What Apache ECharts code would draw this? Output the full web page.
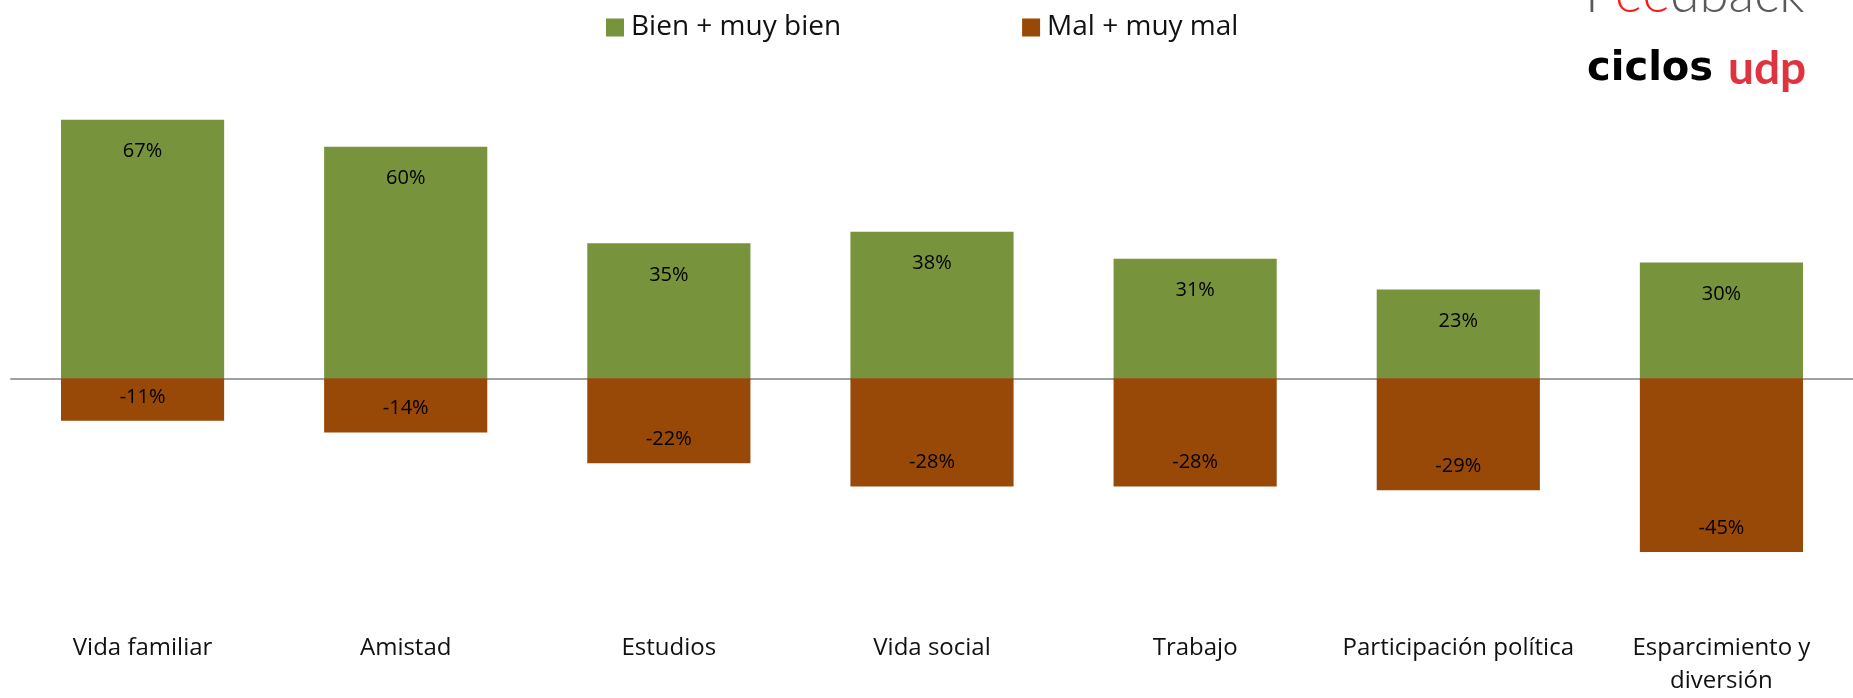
<!DOCTYPE html>
<html>
<head>
<meta charset="utf-8">
<script src="https://cdn.jsdelivr.net/npm/echarts@6/dist/echarts.min.js"></script>
<style>html,body{margin:0;padding:0;background:#fff}#c{width:1853px;height:698px}</style>
</head>
<body>
<div id="c"></div>
<script>
const categories = ['Vida familiar', 'Amistad', 'Estudios', 'Vida social', 'Trabajo', 'Participación política', 'Esparcimiento y\ndiversión'];
const bienValues = [0.67, 0.60, 0.35, 0.38, 0.31, 0.23, 0.30];
const malValues = [-0.11, -0.14, -0.22, -0.28, -0.28, -0.29, -0.45];
const seriesNames = ['Bien + muy bien', 'Mal + muy mal'];

const FONT = '"Open Sans", Lato, sans-serif';
const chart = echarts.init(document.getElementById('c'));
const pct = p => Math.round(p.value * 100) + '%';
chart.setOption({
  animation: false,
  legend: {
    left: 601, top: 8.5,
    itemWidth: 18, itemHeight: 18, itemGap: 181,
    icon: 'rect',
    textStyle: { fontFamily: FONT, fontSize: 28, lineHeight: 28, color: '#111', padding: [0, 0, 0, 2] },
    data: seriesNames
  },
  grid: { left: 11, right: 0, top: 69.5, bottom: 78.5, containLabel: false },
  xAxis: [{
    type: 'category', data: categories, position: 'bottom',
    axisLine: { show: false, onZero: false }, axisTick: { show: false },
    axisLabel: { fontFamily: FONT, fontSize: 24, color: '#111', margin: 22, lineHeight: 33, interval: 0 }
  }, {
    type: 'category', data: categories,
    axisLine: { show: true, onZero: true, lineStyle: { color: '#a0a0a0', width: 2 } },
    axisTick: { show: false }, axisLabel: { show: false }
  }],
  yAxis: { type: 'value', min: -0.6, max: 0.8, show: false, splitLine: { show: false } },
  series: [{
    name: seriesNames[0], type: 'bar', data: bienValues, barWidth: '62%', barGap: '-100%',
    itemStyle: { color: '#77933C' },
    label: { show: true, position: 'insideTop', distance: 22, formatter: pct, fontFamily: FONT, fontSize: 20, color: '#000' }
  }, {
    name: seriesNames[1], type: 'bar', data: malValues, barWidth: '62%',
    itemStyle: { color: '#984807' },
    label: { show: true, position: 'insideBottom', distance: 14, formatter: pct, fontFamily: FONT, fontSize: 20, color: '#000' }
  }],
  graphic: [{
    type: 'text', x: 1585, y: -5.5,
    style: {
      text: '{g|F}{r|ee}{g|dback}', verticalAlign: 'middle', align: 'left',
      rich: {
        g: { fontFamily: 'Lato', fontSize: 53, fontWeight: 300, fill: '#5a5a5a' },
        r: { fontFamily: 'Lato', fontSize: 53, fontWeight: 300, fill: '#ff1a1a' }
      }
    }
  }, {
    type: 'text', x: 1587, y: 70,
    style: { text: 'ciclos', verticalAlign: 'middle', align: 'left', fontFamily: '"DejaVu Sans"', fontSize: 40, fontWeight: 'bold', fill: '#000' }
  }, {
    type: 'text', x: 1728, y: 69,
    style: { text: 'udp', verticalAlign: 'middle', align: 'left', fontFamily: 'Lato', fontSize: 46, fontWeight: 'bold', fill: '#e0333f' }
  }]
});
</script>
</body>
</html>
